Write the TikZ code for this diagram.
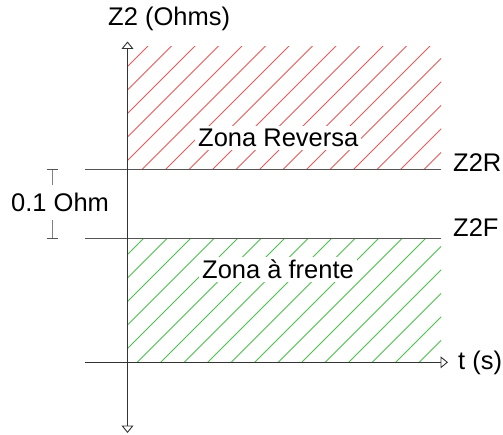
\documentclass[tikz,border=0pt]{standalone}
\usepackage{fontspec}
\setmainfont{Liberation Sans}
\usetikzlibrary{arrows.meta}
\definecolor{hatchred}{HTML}{E85A5A}
\definecolor{hatchgreen}{HTML}{4CC04C}
\definecolor{axisgray}{HTML}{333333}
\definecolor{linegray}{HTML}{555555}
\begin{document}
\begin{tikzpicture}[x=1pt,y=-1pt,
  lbl/.style={font=\fontsize{25.5}{28}\selectfont, inner sep=0pt},
  zonelbl/.style={lbl, fill=white, inner sep=3pt},
  axis/.style={draw=axisgray, line width=0.9pt, -{Triangle[open,length=7.5pt,width=12pt]}},
  levelline/.style={draw=linegray, line width=0.9pt},
  hatch/.style={line width=0.75pt},
  dimline/.style={draw=gray, line width=0.8pt},
  dimtick/.style={draw=linegray, line width=0.8pt}]
\useasboundingbox (0,0) rectangle (503,435);
% hatching
\begin{scope}
  \clip (127.5,47) rectangle (441,169.3);
  \foreach \k in {0,...,40} \draw[hatch, hatchred] (6+23.5*\k,0) -- (6+23.5*\k-500,500);
\end{scope}
\begin{scope}
  \clip (127.5,238.3) rectangle (441,362.3);
  \foreach \k in {0,...,40} \draw[hatch, hatchgreen] (6+23.5*\k,0) -- (6+23.5*\k-500,500);
\end{scope}
% coordinates
\coordinate (ytop) at (127.5,41.5);
\coordinate (ybot) at (127.5,433);
\coordinate (tl) at (85,362.3);
\coordinate (tr) at (448,362.3);
\coordinate (rl) at (85,169.3);
\coordinate (rr) at (441,169.3);
\coordinate (fl) at (85,238.3);
\coordinate (fr) at (441,238.3);
% level lines
\draw[levelline] (rl) -- (rr);
\draw[levelline] (fl) -- (fr);
% axes
\draw[axis] (127.5,362.3) -- (ytop);
\draw[axis] (127.5,362.3) -- (ybot);
\draw[axis] (tl) -- (tr);
% labels
\node[lbl, anchor=base west] (ylab) at (108,26) {Z2 (Ohms)};
\node[lbl, anchor=base west] (tlab) at (458,370) {t (s)};
\node[lbl, anchor=base west] (z2r) at (453,172) {Z2R};
\node[lbl, anchor=base west] (z2f) at (453,237) {Z2F};
\node[zonelbl, anchor=base west] (zr) at (195,147) {Zona Reversa};
\node[zonelbl, anchor=base west] (zf) at (199,279) {Zona à frente};
\node[lbl, anchor=base west] (ohm) at (11,211.5) {0.1 Ohm};
% dimension marker
\coordinate (dt) at (52.5,169.3);
\coordinate (db) at (52.5,238.3);
\draw[dimline] (dt) -- (52.5,185);
\draw[dimline] (52.5,220) -- (db);
\draw[dimtick] (47,169.3) -- (58,169.3);
\draw[dimtick] (47,238.3) -- (58,238.3);
\end{tikzpicture}
\end{document}
